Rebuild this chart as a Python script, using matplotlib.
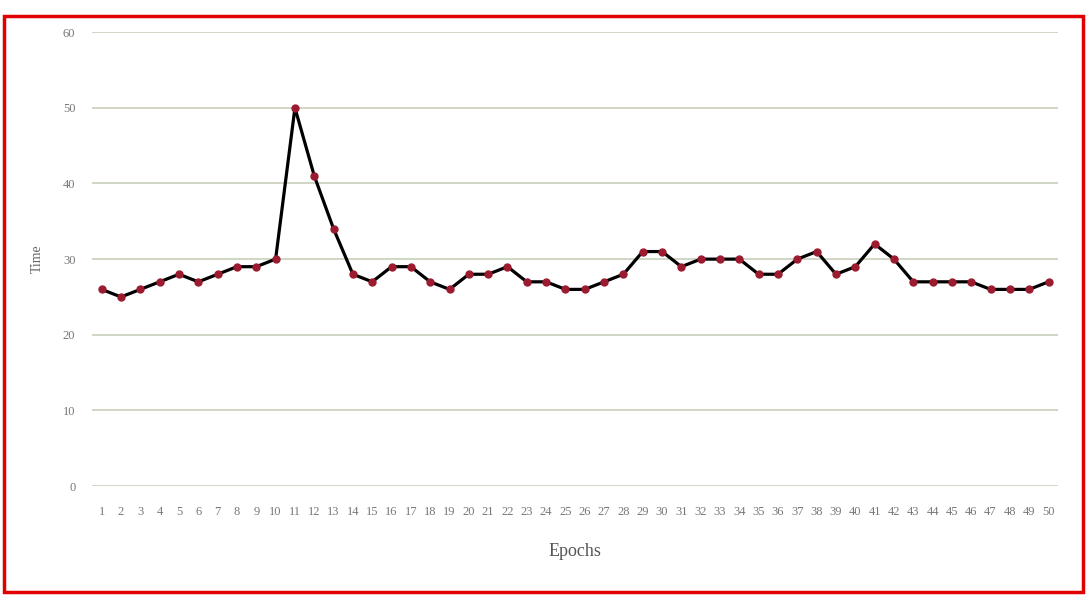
import matplotlib
matplotlib.use("Agg")
import matplotlib.pyplot as plt
from matplotlib.patches import Rectangle

epochs = list(range(1, 51))
times = [26, 25, 26, 27, 28, 27, 28, 29, 29, 30,
         50, 41, 34, 28, 27, 29, 29, 27, 26, 28,
         28, 29, 27, 27, 26, 26, 27, 28, 31, 31,
         29, 30, 30, 30, 28, 28, 30, 31, 28, 29,
         32, 30, 27, 27, 27, 27, 26, 26, 26, 27]
yticks = [0, 10, 20, 30, 40, 50, 60]

plt.rcParams['font.family'] = ['Liberation Serif', 'DejaVu Serif']

fig = plt.figure(figsize=(10.88, 5.95), dpi=100)
ax = fig.add_axes([0.0846, 0.183, 0.888, 0.763])

ax.plot(epochs, times, color='black', linewidth=2.3, marker='o', markersize=5,
        markerfacecolor='#9b1b30', markeredgecolor='#9b1b30', zorder=3)

ax.set_xlim(0.5, 50.5)
ax.set_ylim(0, 60)
ax.set_yticks(yticks)
ax.set_xticks(epochs)
ax.set_xticklabels([str(e) for e in epochs])
ax.grid(axis='y', color='#cdd3c0', linewidth=1.3)
ax.set_axisbelow(True)
for s in ax.spines.values():
    s.set_visible(False)
ax.tick_params(axis='both', length=0, labelsize=9, colors='#777777')
ax.tick_params(axis='y', pad=12)
ax.tick_params(axis='x', pad=14)
ax.set_ylabel('Time', fontsize=10, color='#666666', labelpad=14)
ax.set_xlabel('Epochs', fontsize=13, color='#555555', labelpad=18)

fig.patches.append(Rectangle((4/1088, 1-592/595), 1079/1088, 576/595,
                             transform=fig.transFigure, fill=False,
                             edgecolor='#e00000', linewidth=2.5))

fig.savefig('out.png', dpi=100)
